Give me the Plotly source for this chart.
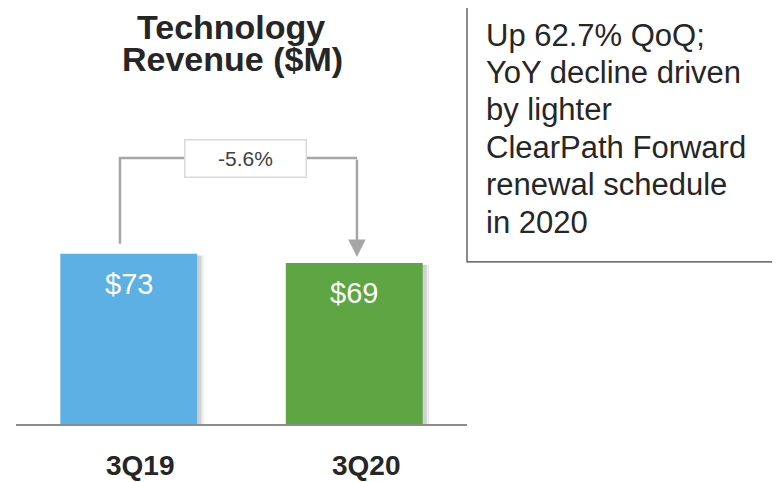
import plotly.graph_objects as go

# ---- data ----
categories = ["3Q19", "3Q20"]
revenue = [73, 69]
value_labels = ["$73", "$69"]
bar_colors = ["#5DB0E4", "#5DA643"]
change_label = "-5.6%"
title_lines = ["Technology", "Revenue ($M)"]
note_lines = ["Up 62.7% QoQ;", "YoY decline driven", "by lighter",
              "ClearPath Forward", "renewal schedule", "in 2020"]

FONT = "Liberation Sans, Arial, sans-serif"
DARK = "#262626"
BAR_W = 0.607
xpos = list(range(len(categories)))
PLOT_H = 280.0  # px height of plotting area

fig = go.Figure()

# soft shadow behind bars
for off, alpha in [(0.030, 0.07), (0.018, 0.12)]:
    fig.add_trace(go.Bar(
        x=xpos, y=[v - 0.8 for v in revenue], width=BAR_W, offset=-BAR_W / 2 + off,
        marker=dict(color=f"rgba(0,0,0,{alpha})", line=dict(width=0)),
        hoverinfo="skip", showlegend=False))

fig.add_trace(go.Bar(
    x=xpos, y=revenue, width=BAR_W, offset=-BAR_W / 2,
    marker=dict(color=bar_colors, line=dict(width=0)),
    showlegend=False))

# value labels inside bars
for i, (v, lab) in enumerate(zip(revenue, value_labels)):
    fig.add_annotation(x=xpos[i], y=v, text=lab, showarrow=False, yanchor="middle",
                       yshift=-30, font=dict(family=FONT, size=29, color="white"))

# category labels under the axis
for i, c in enumerate(categories):
    fig.add_annotation(x=xpos[i], y=0, text=f"<b>{c}</b>", showarrow=False,
                       yanchor="middle", xshift=12, yshift=-41,
                       font=dict(family=FONT, size=28, color=DARK))

# connector: from first bar up, across, and down (arrow) to second bar
top_y = max(revenue) + 41
x_left = xpos[0] - 0.039
x_right = xpos[1] + 0.012
fig.add_shape(type="path", xref="x", yref="y",
              path=f"M {x_left},{revenue[0] + 4.2} L {x_left},{top_y} L {x_right},{top_y}",
              line=dict(color="#A6A6A6", width=2.5))
fig.add_annotation(x=x_right, y=revenue[1] + 2.6, ax=x_right, ay=top_y,
                   axref="x", ayref="y", xref="x", yref="y", text="",
                   showarrow=True, arrowhead=2, arrowsize=1.4, arrowwidth=2.5,
                   arrowcolor="#A6A6A6", standoff=0)
fig.add_annotation(x=(x_left + x_right) / 2, y=top_y, text=change_label, showarrow=False,
                   xshift=7, width=120, height=36, bgcolor="white",
                   bordercolor="#D9D9D9", borderwidth=1.5, borderpad=0,
                   font=dict(family=FONT, size=21, color="#404040"))

# title (two lines)
fig.add_annotation(xref="paper", yref="paper", x=0.477, y=1.418, text=f"<b>{title_lines[0]}</b>",
                   showarrow=False, yanchor="middle",
                   font=dict(family=FONT, size=34, color=DARK))
fig.add_annotation(xref="paper", yref="paper", x=0.48, y=1.303, text=f"<b>{title_lines[1]}</b>",
                   showarrow=False, yanchor="middle",
                   font=dict(family=FONT, size=34, color=DARK))

# note box on the right
fig.add_shape(type="rect", xref="paper", yref="paper", x0=1.0, x1=1.72, y0=0.579, y1=1.493,
              line=dict(color="#404040", width=1.2), fillcolor="rgba(0,0,0,0)")
for k, line in enumerate(note_lines):
    y_px_from_base = 389 - 37.4 * k  # distance above baseline, in px
    fig.add_annotation(xref="paper", yref="paper", x=1.038, y=y_px_from_base / PLOT_H,
                       xanchor="left", yanchor="middle", align="left", showarrow=False,
                       text=line, font=dict(family=FONT, size=31, color=DARK))

fig.update_layout(
    width=772, height=474,
    margin=dict(l=8, r=313, t=136, b=58),
    paper_bgcolor="white", plot_bgcolor="white",
    barmode="overlay",
    xaxis=dict(range=[-0.5, 1.5], showticklabels=False, ticks="", showgrid=False,
               zeroline=False, showline=True, linecolor="#8C8C8C", linewidth=2),
    yaxis=dict(range=[0, 120], visible=False, showgrid=False, zeroline=False),
)

fig.write_html("out.html")
